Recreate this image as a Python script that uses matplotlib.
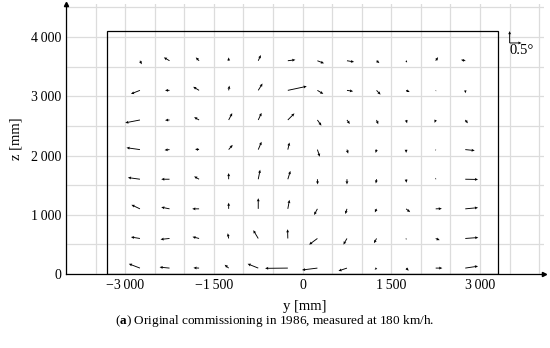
import numpy as np
import matplotlib
matplotlib.use("Agg")
import matplotlib.pyplot as plt
from matplotlib.patches import Rectangle

plt.rcParams['font.family'] = 'Liberation Serif'
plt.rcParams['mathtext.fontset'] = 'custom'
plt.rcParams['mathtext.rm'] = 'Liberation Serif'
plt.rcParams['mathtext.bf'] = 'Liberation Serif:bold'

# measuring grid (mm)
y_pos = [-2750, -2250, -1750, -1250, -750, -250, 250, 750, 1250, 1750, 2250, 2750]
z_pos = [3600, 3100, 2600, 2100, 1600, 1100, 600, 100]

# flow angles in degrees, rows from top (z=3600) to bottom (z=100)
u_deg = [
    [0.08, -0.24, -0.14, 0.00, 0.11, 0.32, 0.28, 0.30, 0.12, 0.04, 0.10, -0.18],
    [-0.38, -0.19, -0.25, 0.03, 0.18, 0.80, 0.25, 0.26, 0.17, 0.15, 0.02, 0.01],
    [-0.62, -0.19, -0.21, 0.15, 0.14, 0.28, 0.17, 0.12, 0.07, 0.04, -0.05, 0.11],
    [-0.57, -0.21, -0.17, 0.17, 0.14, 0.07, 0.10, 0.05, -0.04, 0.00, -0.01, 0.40],
    [-0.51, -0.35, -0.21, 0.00, 0.08, 0.11, 0.01, 0.00, -0.03, 0.01, 0.00, 0.54],
    [-0.36, -0.35, -0.29, 0.00, 0.00, 0.07, -0.14, -0.07, -0.07, 0.17, 0.26, 0.54],
    [-0.38, -0.38, -0.28, -0.04, -0.21, -0.01, -0.35, -0.15, -0.11, 0.00, 0.17, 0.55],
    [-0.47, -0.42, -0.24, -0.17, -0.45, -0.96, -0.65, -0.36, -0.08, 0.11, 0.28, 0.54],
]
v_deg = [
    [-0.15, 0.14, 0.14, 0.14, 0.24, 0.04, -0.11, -0.05, -0.10, -0.08, 0.15, 0.04],
    [-0.15, 0.00, 0.15, 0.20, 0.29, 0.17, -0.15, -0.04, -0.18, -0.07, -0.04, -0.12],
    [-0.12, -0.01, 0.12, 0.29, 0.30, 0.28, -0.24, -0.17, -0.18, -0.14, -0.12, -0.14],
    [0.08, -0.02, 0.02, 0.20, 0.33, 0.30, -0.30, -0.17, -0.14, -0.14, -0.05, -0.04],
    [0.07, 0.00, 0.12, 0.26, 0.40, 0.35, -0.22, -0.22, -0.18, -0.15, 0.06, -0.01],
    [0.17, 0.07, 0.00, 0.26, 0.45, 0.38, -0.26, -0.22, -0.15, -0.14, 0.01, 0.05],
    [0.06, -0.04, 0.07, 0.22, 0.35, 0.39, -0.26, -0.26, -0.20, -0.06, -0.07, 0.04],
    [0.18, 0.04, 0.01, 0.14, 0.18, -0.01, -0.08, -0.12, -0.07, -0.11, 0.00, 0.08],
]

# test section outline (mm)
box_width = 6600
box_height = 4100

x_ticks = [-3000, -1500, 0, 1500, 3000]
x_labels = ['\u22123\u2009000', '\u22121\u2009500', '0', '1\u2009500', '3\u2009000']
z_ticks = [0, 1000, 2000, 3000, 4000]
z_labels = ['0', '1\u2009000', '2\u2009000', '3\u2009000', '4\u2009000']

mm_per_deg = 400.0
arrow_kw = dict(angles='xy', scale_units='xy', scale=1.0 / mm_per_deg, color='black',
                width=0.0019, headwidth=3.2, headlength=3.5, headaxislength=3.2,
                minshaft=1, minlength=0.1, zorder=3)

fig = plt.figure(figsize=(5.5, 3.48), dpi=100)
ax = fig.add_axes([0.12, 0.2126, 0.869, 0.7763])

Y, Z = np.meshgrid(y_pos, z_pos)
ax.quiver(Y, Z, np.array(u_deg), np.array(v_deg), **arrow_kw)

# reference arrows 0.5 deg
ax.quiver([3500, 3500], [3900, 3900], [0.5, 0.0], [0.0, 0.5], **arrow_kw)
ax.text(3500, 3780, '0.5°', fontsize=10.5, ha='left', va='center')

ax.add_patch(Rectangle((-box_width / 2, 0), box_width, box_height, fill=False,
                       edgecolor='black', linewidth=0.9, zorder=2))

ax.set_xlim(-4000, 4080)
ax.set_ylim(0, 4560)

ax.set_xticks(np.arange(-4000, 4001, 500), minor=True)
ax.set_yticks(np.arange(0, 4501, 500), minor=True)
ax.set_xticks(x_ticks)
ax.set_xticklabels(x_labels, fontsize=10)
ax.set_yticks(z_ticks)
ax.set_yticklabels(z_labels, fontsize=10)
ax.grid(which='both', color='#dcdcdc', linewidth=0.9)
ax.set_axisbelow(True)
ax.tick_params(which='both', direction='in', length=0)

for side in ['top', 'right']:
    ax.spines[side].set_visible(False)
for side in ['left', 'bottom']:
    ax.spines[side].set_linewidth(0.9)
ax.plot(1, 0, '>k', markersize=3, transform=ax.transAxes, clip_on=False)
ax.plot(0, 1, '^k', markersize=3, transform=ax.transAxes, clip_on=False)

ax.set_xlabel('y [mm]', fontsize=10.5, labelpad=6)
ax.set_ylabel('z [mm]', fontsize=10.5, labelpad=6)

fig.text(0.5, 0.078, r'($\mathbf{a}$) Original commissioning in 1986, measured at 180 km/h.',
         ha='center', va='center', fontsize=9.5)

fig.savefig('out.png', dpi=100)
